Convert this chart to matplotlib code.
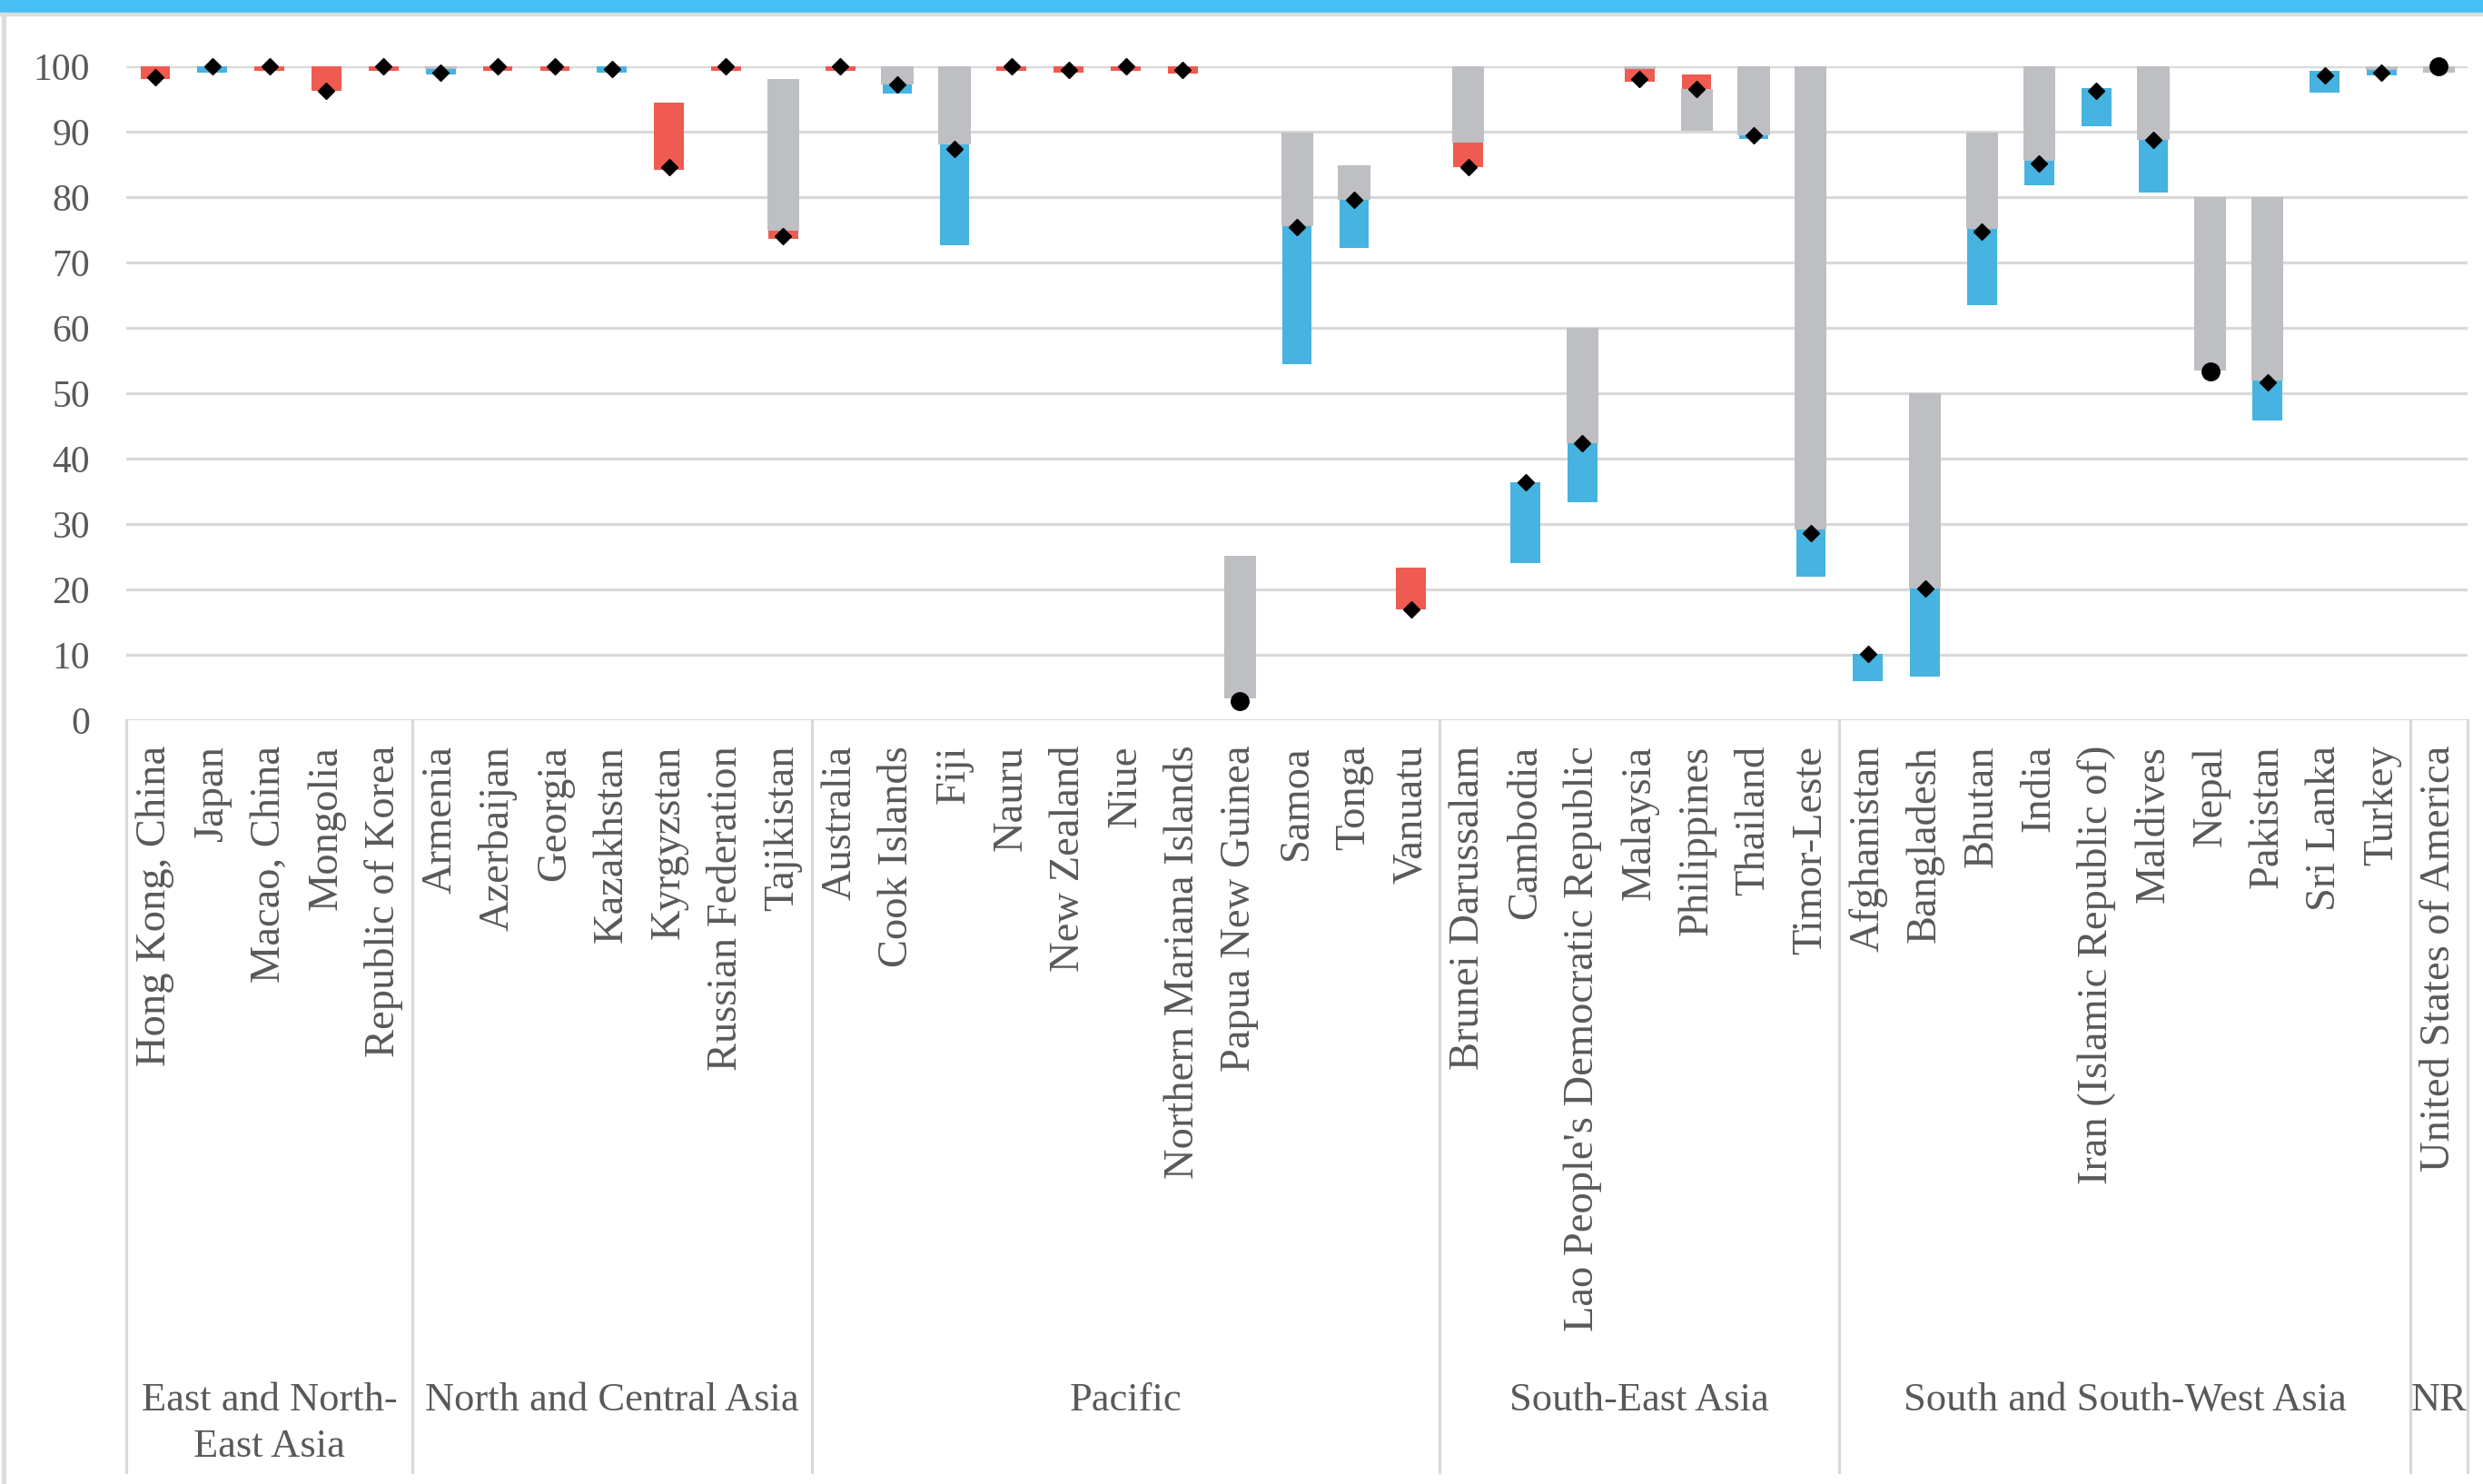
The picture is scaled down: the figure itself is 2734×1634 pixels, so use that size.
import numpy as np
import matplotlib.pyplot as plt
from matplotlib.patches import Rectangle
import matplotlib.transforms as mtransforms

plt.rcParams['font.family'] = ['Liberation Serif', 'DejaVu Serif']

countries = ["Hong Kong, China", "Japan", "Macao, China", "Mongolia", "Republic of Korea",
             "Armenia", "Azerbaijan", "Georgia", "Kazakhstan", "Kyrgyzstan",
             "Russian Federation", "Tajikistan",
             "Australia", "Cook Islands", "Fiji", "Nauru", "New Zealand", "Niue",
             "Northern Mariana Islands", "Papua New Guinea", "Samoa", "Tonga", "Vanuatu",
             "Brunei Darussalam", "Cambodia", "Lao People's Democratic Republic",
             "Malaysia", "Philippines", "Thailand", "Timor-Leste",
             "Afghanistan", "Bangladesh", "Bhutan", "India", "Iran (Islamic Republic of)",
             "Maldives", "Nepal", "Pakistan", "Sri Lanka", "Turkey",
             "United States of America"]

groups = ["East and North-\nEast Asia", "North and Central Asia", "Pacific",
          "South-East Asia", "South and South-West Asia", "NR"]
group_sizes = [5, 7, 11, 7, 10, 1]

nan = np.nan
# gray range
gray_lo = [nan, nan, nan, nan, nan, 99.6, nan, nan, nan, nan, nan, 74.8,
           nan, 97.2, 88.0, nan, nan, nan, nan, 3.3, 75.5, 79.6, nan,
           88.4, nan, 42.4, 99.6, 90.2, 89.5, 29.1,
           nan, 20.2, 75.1, 85.5, nan, 88.7, 53.5, 52.0, nan, 99.5, 99.0]
gray_hi = [nan, nan, nan, nan, nan, 100, nan, nan, nan, nan, nan, 98.0,
           nan, 100, 100, nan, nan, nan, nan, 25.1, 89.8, 84.9, nan,
           100, nan, 60.0, 100, 96.6, 100, 100,
           nan, 50.0, 89.8, 100, nan, 100, 80.0, 80.0, nan, 100, 100]
# change range (red = fall, blue = rise)
chg_lo = [98.0, 99.0, 99.3, 96.2, 99.3, 98.8, 99.3, 99.3, 99.0, 84.2, 99.3, 73.6,
          99.3, 95.8, 72.6, 99.3, 99.1, 99.3, 98.9, nan, 54.5, 72.2, 17.0,
          84.6, 24.0, 33.3, 97.6, 96.6, 88.9, 22.0,
          6.0, 6.7, 63.5, 81.8, 90.9, 80.7, nan, 45.8, 96.0, 98.6, nan]
chg_hi = [100, 100, 100, 100, 100, 99.6, 100, 100, 100, 94.5, 100, 74.8,
          100, 97.2, 88.0, 100, 100, 100, 100, nan, 75.5, 79.6, 23.3,
          88.4, 36.4, 42.4, 99.6, 98.8, 89.5, 29.1,
          10.2, 20.2, 75.1, 85.5, 96.7, 88.7, nan, 52.0, 99.3, 99.4, nan]
chg_dir = ["r", "b", "r", "r", "r", "b", "r", "r", "b", "r", "r", "r",
           "r", "b", "b", "r", "r", "r", "r", "", "b", "b", "r",
           "r", "b", "b", "r", "r", "b", "b",
           "b", "b", "b", "b", "b", "b", "", "b", "b", "b", ""]
# latest value marker
latest = [98.3, 100, 100, 96.2, 100, 99.0, 100, 100, 99.6, 84.6, 100, 74.0,
          100, 97.2, 87.4, 100, 99.4, 100, 99.4, 2.9, 75.4, 79.6, 16.9,
          84.6, 36.4, 42.4, 98.0, 96.6, 89.5, 28.6,
          10.2, 20.2, 74.7, 85.2, 96.2, 88.7, 53.3, 51.6, 98.6, 99.0, 100]
no_change = [19, 36, 40]

red = '#EF5B50'
blue = '#46B3E0'
gray = '#BEBFC2'
txt = '#595959'
grid_c = '#D9D9D9'

fig = plt.figure(figsize=(27.34, 16.34), dpi=100)
ax = fig.add_axes([0.051, 0.5147, 0.9427, 0.4406])

x = np.arange(len(countries))
gl = np.array(gray_lo)
gh = np.array(gray_hi)
cl = np.array(chg_lo)
ch = np.array(chg_hi)

ax.bar(x, gh - gl, bottom=gl, width=0.56, color=gray, zorder=2)
cols = [red if d == "r" else blue for d in chg_dir]
ax.bar(x, ch - cl, bottom=cl, width=0.52, color=cols, zorder=3)

dia = [i for i in x if i not in no_change]
ax.plot(x[dia], np.array(latest)[dia], 'D', color='black', markersize=9.5,
        zorder=5, clip_on=False)
ax.plot(x[no_change], np.array(latest)[no_change], 'o', color='black',
        markersize=14, zorder=5, clip_on=False)

ax.set_xlim(-0.5, len(countries) - 0.5)
ax.set_ylim(0, 100)
ax.set_yticks(np.arange(0, 101, 10))
ax.yaxis.grid(True, color=grid_c, linewidth=2.3, zorder=0)
ax.set_axisbelow(True)
for s in ax.spines.values():
    s.set_visible(False)
ax.tick_params(axis='y', length=0, pad=29, labelsize=30, labelcolor=txt)
ax.set_xticks(x)
ax.set_xticklabels(countries, rotation=90, va='top', ha='center')
ax.tick_params(axis='x', length=0, pad=20, labelsize=33.5, labelcolor=txt)

# group separators and labels
trans = mtransforms.blended_transform_factory(ax.transData, ax.transAxes)
bounds = np.concatenate([[0], np.cumsum(group_sizes)]) - 0.5
for b in bounds:
    ax.plot([b, b], [0, -1.15], color=grid_c, linewidth=2.3, transform=trans,
            clip_on=False, zorder=1)
for i, g in enumerate(groups):
    mid = (bounds[i] + bounds[i + 1]) / 2
    ax.text(mid, -1.013, g, transform=trans, ha='center', va='top',
            fontsize=32, color=txt, linespacing=1.35)

# page frame: blue stripe on top, thin gray borders
fig.patches.append(Rectangle((0, 1 - 13 / 1634), 1, 13 / 1634, transform=fig.transFigure,
                             color='#45BFF4', zorder=0))
fig.patches.append(Rectangle((0, 1 - 17 / 1634), 1, 3 / 1634, transform=fig.transFigure,
                             color='#DDDDDD', zorder=0))
fig.patches.append(Rectangle((2 / 2734, 0), 4 / 2734, 1 - 14 / 1634, transform=fig.transFigure,
                             color='#DDDDDD', zorder=0))

plt.savefig('out.png', dpi=100)
